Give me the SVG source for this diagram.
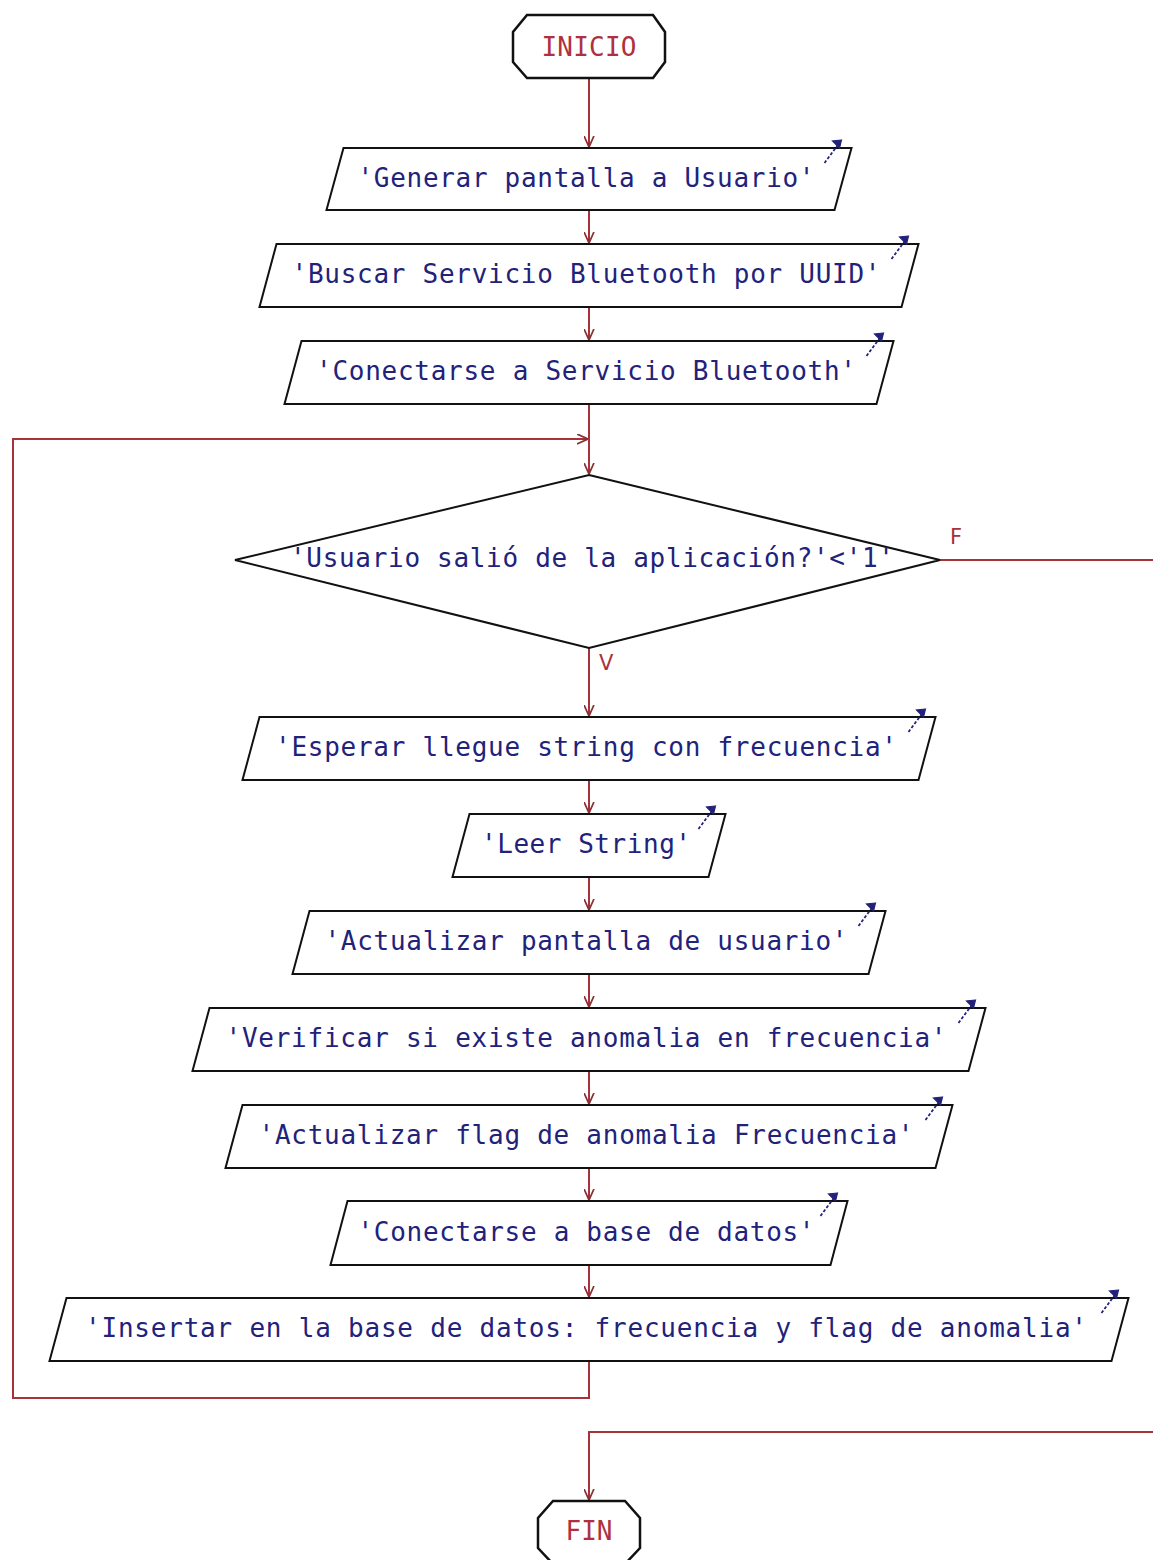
<svg xmlns="http://www.w3.org/2000/svg" width="1153" height="1560" viewBox="0 0 1153 1560">
  <style>
    .bg { fill: #ffffff; }
    .shape { fill: #ffffff; stroke: #111111; stroke-width: 2; stroke-linejoin: miter; }
    .term { fill: #ffffff; stroke: #111111; stroke-width: 2.5; }
    .flow { fill: none; stroke: #a8323a; stroke-width: 2; }
    .lbl { font-family: "DejaVu Sans Mono", "Liberation Mono", monospace; font-size: 26px; fill: #22227a; }
    .red { font-family: "DejaVu Sans Mono", "Liberation Mono", monospace; font-size: 26px; fill: #b0303f; }
    .mark { font-family: "DejaVu Sans", "Liberation Sans", sans-serif; font-size: 21px; fill: #a8323a; }
    .io { fill: none; stroke: #22227a; stroke-width: 1.8; }
    .io-tail { stroke-dasharray: 3 2; }
    .io-head { fill: #22227a; stroke: #22227a; stroke-width: 1.2; }
  </style>
  <defs>
    <marker id="arrow" viewBox="0 0 10 10" refX="10" refY="5" markerWidth="11" markerHeight="11" markerUnits="userSpaceOnUse" orient="auto">
      <path d="M0,0.5 L10,5 L0,9.5" fill="none" stroke="#8a2f35" stroke-width="1.6"/>
    </marker>
    <!-- small output indicator drawn at the top-right corner of each parallelogram -->
    <g id="io-mark">
      <path class="io io-tail" d="M-17,23 L-3,4"/>
      <path class="io-head" d="M0,0 L-9,1 L-2,8 Z"/>
    </g>
  </defs>

  <rect class="bg" x="0" y="0" width="1153" height="1560"/>

  <!-- connectors -->
  <g id="connectors">
    <path class="flow" d="M589,78 L589,147" marker-end="url(#arrow)"/>
    <path class="flow" d="M589,210 L589,243" marker-end="url(#arrow)"/>
    <path class="flow" d="M589,307 L589,340" marker-end="url(#arrow)"/>
    <path class="flow" d="M589,404 L589,474" marker-end="url(#arrow)"/>
    <!-- loop back to the decision -->
    <path class="flow" d="M589,1361 L589,1398 L13,1398 L13,439 L588,439" marker-end="url(#arrow)"/>
    <!-- true branch -->
    <path class="flow" d="M589,648 L589,716" marker-end="url(#arrow)"/>
    <path class="flow" d="M589,780 L589,813" marker-end="url(#arrow)"/>
    <path class="flow" d="M589,877 L589,910" marker-end="url(#arrow)"/>
    <path class="flow" d="M589,974 L589,1007" marker-end="url(#arrow)"/>
    <path class="flow" d="M589,1071 L589,1104" marker-end="url(#arrow)"/>
    <path class="flow" d="M589,1168 L589,1200" marker-end="url(#arrow)"/>
    <path class="flow" d="M589,1265 L589,1297" marker-end="url(#arrow)"/>
    <!-- false branch to the end -->
    <path class="flow" d="M940,560 L1160,560 L1160,1432 L589,1432 L589,1500" marker-end="url(#arrow)"/>
    <text class="mark" x="950" y="544">F</text>
    <text class="mark" x="599" y="670">V</text>
  </g>

  <!-- start -->
  <g id="inicio">
    <polygon class="term" points="527,15 653,15 665,32 665,62 653,78 527,78 513,62 513,32"/>
    <text class="red" x="589" y="56" text-anchor="middle" textLength="95" lengthAdjust="spacing">INICIO</text>
  </g>

  <g id="generar-pantalla">
    <polygon class="shape" points="343.5,148 851.5,148 834.5,210 326.5,210"/>
    <text class="lbl" x="586" y="187" text-anchor="middle" textLength="457" lengthAdjust="spacing">'Generar pantalla a Usuario'</text>
    <use href="#io-mark" x="841.5" y="140"/>
  </g>

  <g id="buscar-servicio">
    <polygon class="shape" points="276.5,244 918.5,244 901.5,307 259.5,307"/>
    <text class="lbl" x="586" y="283" text-anchor="middle" textLength="589" lengthAdjust="spacing">'Buscar Servicio Bluetooth por UUID'</text>
    <use href="#io-mark" x="908.5" y="236"/>
  </g>

  <g id="conectar-servicio">
    <polygon class="shape" points="301.5,341 893.5,341 876.5,404 284.5,404"/>
    <text class="lbl" x="586" y="380" text-anchor="middle" textLength="540" lengthAdjust="spacing">'Conectarse a Servicio Bluetooth'</text>
    <use href="#io-mark" x="883.5" y="333"/>
  </g>

  <g id="usuario-salio">
    <polygon class="shape" stroke-width="2.5" points="589,475 940,560 589,648 235,560"/>
    <text class="lbl" x="592" y="567" text-anchor="middle" textLength="604" lengthAdjust="spacing">'Usuario salió de la aplicación?'&lt;'1'</text>
  </g>

  <g id="esperar-string">
    <polygon class="shape" points="259.5,717 935.5,717 918.5,780 242.5,780"/>
    <text class="lbl" x="586" y="756" text-anchor="middle" textLength="622" lengthAdjust="spacing">'Esperar llegue string con frecuencia'</text>
    <use href="#io-mark" x="925.5" y="709"/>
  </g>

  <g id="leer-string">
    <polygon class="shape" points="469.5,814 725.5,814 708.5,877 452.5,877"/>
    <text class="lbl" x="586" y="853" text-anchor="middle" textLength="210" lengthAdjust="spacing">'Leer String'</text>
    <use href="#io-mark" x="715.5" y="806"/>
  </g>

  <g id="actualizar-pantalla">
    <polygon class="shape" points="309.5,911 885.5,911 868.5,974 292.5,974"/>
    <text class="lbl" x="586" y="950" text-anchor="middle" textLength="523" lengthAdjust="spacing">'Actualizar pantalla de usuario'</text>
    <use href="#io-mark" x="875.5" y="903"/>
  </g>

  <g id="verificar-anomalia">
    <polygon class="shape" points="209.5,1008 985.5,1008 968.5,1071 192.5,1071"/>
    <text class="lbl" x="586" y="1047" text-anchor="middle" textLength="721" lengthAdjust="spacing">'Verificar si existe anomalia en frecuencia'</text>
    <use href="#io-mark" x="975.5" y="1000"/>
  </g>

  <g id="actualizar-flag">
    <polygon class="shape" points="242.5,1105 952.5,1105 935.5,1168 225.5,1168"/>
    <text class="lbl" x="586" y="1144" text-anchor="middle" textLength="655" lengthAdjust="spacing">'Actualizar flag de anomalia Frecuencia'</text>
    <use href="#io-mark" x="942.5" y="1097"/>
  </g>

  <g id="conectar-bd">
    <polygon class="shape" points="347.5,1201 847.5,1201 830.5,1265 330.5,1265"/>
    <text class="lbl" x="586" y="1241" text-anchor="middle" textLength="457" lengthAdjust="spacing">'Conectarse a base de datos'</text>
    <use href="#io-mark" x="837.5" y="1193"/>
  </g>

  <g id="insertar-bd">
    <polygon class="shape" points="66.5,1298 1128.5,1298 1111.5,1361 49.5,1361"/>
    <text class="lbl" x="586" y="1337" text-anchor="middle" textLength="1002" lengthAdjust="spacing">'Insertar en la base de datos: frecuencia y flag de anomalia'</text>
    <use href="#io-mark" x="1118.5" y="1290"/>
  </g>

  <!-- end -->
  <g id="fin">
    <polygon class="term" points="553,1501 625,1501 640,1518 640,1548 625,1564 553,1564 538,1548 538,1518"/>
    <text class="red" x="589" y="1540" text-anchor="middle" textLength="47" lengthAdjust="spacing">FIN</text>
  </g>
</svg>
